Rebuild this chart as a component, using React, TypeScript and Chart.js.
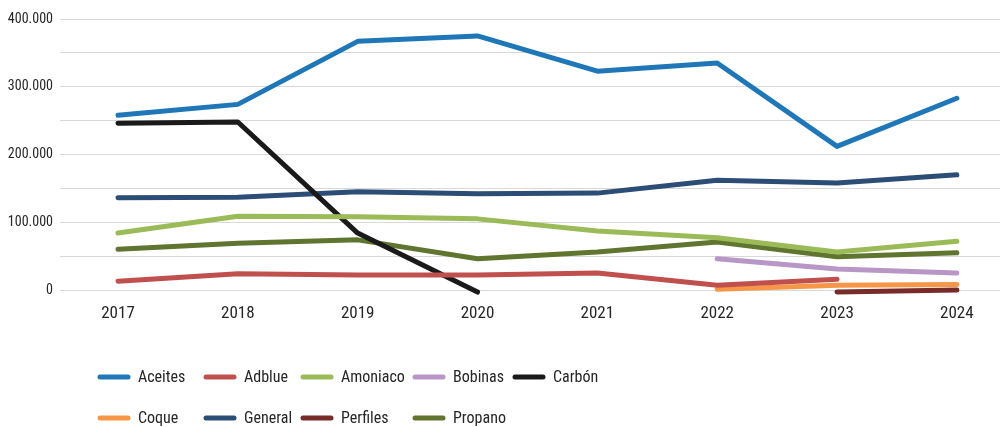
import React, { useEffect, useRef } from "react";
import { Chart, registerables } from "chart.js";

Chart.register(...registerables);

const years = ["2017", "2018", "2019", "2020", "2021", "2022", "2023", "2024"];

const aceites = [258000, 274000, 367000, 375000, 323000, 335000, 212000, 283000];
const adblue = [13000, 24000, 22000, 22000, 25000, 7000, 16000, null];
const amoniaco = [84000, 109000, 108000, 105000, 87000, 77000, 56000, 72000];
const bobinas = [null, null, null, null, null, 46000, 31000, 25000];
const carbon = [246000, 248000, 84000, -3000, null, null, null, null];
const coque = [null, null, null, null, null, 1000, 7000, 8000];
const general = [136000, 137000, 145000, 142000, 143000, 162000, 158000, 170000];
const perfiles = [null, null, null, null, null, null, -3000, 0];
const propano = [60000, 69000, 74000, 46000, 56000, 71000, 49000, 55000];

const seriesNames = ["Aceites", "Adblue", "Amoniaco", "Bobinas", "Carbón", "Coque", "General", "Perfiles", "Propano"];
const seriesValues = [aceites, adblue, amoniaco, bobinas, carbon, coque, general, perfiles, propano];
const seriesColors = ["#1f77b8", "#c0504d", "#9bbb59", "#b896c6", "#1a1a1a", "#f79646", "#2c4d75", "#772c2a", "#5f7530"];

const yTickLabels = ["0", "100.000", "200.000", "300.000", "400.000"];

const FONT = "'Roboto Condensed', 'DejaVu Sans Condensed', sans-serif";

// legend layout (order matches series)
const legendCols = [98, 204, 301, 413, 513];
const legendRows = [377, 418];

const legendPlugin = {
  id: "customLegend",
  afterDraw(chart: any) {
    const ctx = chart.ctx;
    ctx.save();
    chart.data.datasets.forEach((ds: any, i: number) => {
      const col = i < 5 ? i : i - 5;
      const row = i < 5 ? 0 : 1;
      const x = legendCols[col];
      const y = legendRows[row];
      ctx.strokeStyle = ds.borderColor;
      ctx.lineWidth = 5;
      ctx.lineCap = "round";
      ctx.beginPath();
      ctx.moveTo(x + 2, y);
      ctx.lineTo(x + 30, y);
      ctx.stroke();
      ctx.fillStyle = "#262626";
      ctx.font = `16px ${FONT}`;
      ctx.textBaseline = "middle";
      ctx.textAlign = "left";
      ctx.fillText(ds.label, x + 40, y + 1);
    });
    ctx.restore();
  },
};

export default function App() {
  const ref = useRef<HTMLCanvasElement | null>(null);

  useEffect(() => {
    document.body.style.margin = "0";
    const canvas = ref.current;
    if (!canvas) return;
    const datasets = seriesNames.map((name, i) => ({
      label: name,
      data: seriesValues[i].map((v, j) => ({ x: j, y: v })),
      borderColor: seriesColors[i],
      backgroundColor: seriesColors[i],
      borderWidth: 5,
      borderCapStyle: "round" as const,
      borderJoinStyle: "round" as const,
      pointRadius: 0,
      pointHoverRadius: 0,
      tension: 0,
      spanGaps: false,
      clip: false as any,
    }));
    const chart = new Chart(canvas, {
      type: "line",
      data: { datasets },
      options: {
        animation: false,
        responsive: false,
        devicePixelRatio: 1,
        layout: { padding: { top: 19, bottom: 97, left: 0, right: 0 } },
        plugins: { legend: { display: false }, tooltip: { enabled: false } },
        scales: {
          x: {
            type: "linear",
            min: -0.484,
            max: 7.36,
            afterBuildTicks(scale: any) {
              scale.ticks = years.map((_, i) => ({ value: i }));
            },
            afterFit(scale: any) {
              scale.height = 40;
            },
            grid: { display: false, drawTicks: false },
            border: { display: false },
            ticks: {
              padding: 14,
              color: "#262626",
              font: { family: FONT, size: 17 },
              callback: (v: any) => years[Math.round(Number(v))] ?? "",
              autoSkip: false,
              maxRotation: 0,
            },
          },
          y: {
            min: 0,
            max: 400000,
            afterFit(scale: any) {
              scale.width = 60;
            },
            grid: { color: "#d9d9d9", lineWidth: 1, drawTicks: false },
            border: { display: false },
            ticks: {
              stepSize: 50000,
              padding: 7,
              color: "#262626",
              font: { family: FONT, size: 14 },
              callback: (v: any) => {
                const n = Number(v);
                if (n % 100000 !== 0) return "";
                return yTickLabels[n / 100000] ?? "";
              },
            },
          },
        },
      },
      plugins: [legendPlugin],
    });
    return () => chart.destroy();
  }, []);

  return <canvas ref={ref} width={1000} height={427} style={{ display: "block" }} />;
}
